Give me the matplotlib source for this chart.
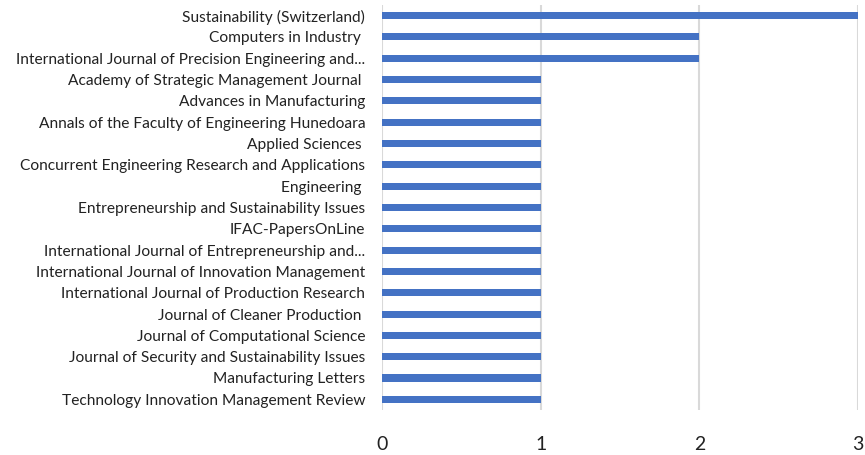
import matplotlib
matplotlib.use("Agg")
import matplotlib.pyplot as plt

journals = [
    "Sustainability (Switzerland)",
    "Computers in Industry ",
    "International Journal of Precision Engineering and...",
    "Academy of Strategic Management Journal ",
    "Advances in Manufacturing",
    "Annals of the Faculty of Engineering Hunedoara",
    "Applied Sciences ",
    "Concurrent Engineering Research and Applications",
    "Engineering ",
    "Entrepreneurship and Sustainability Issues",
    "IFAC-PapersOnLine",
    "International Journal of Entrepreneurship and...",
    "International Journal of Innovation Management",
    "International Journal of Production Research",
    "Journal of Cleaner Production ",
    "Journal of Computational Science",
    "Journal of Security and Sustainability Issues",
    "Manufacturing Letters",
    "Technology Innovation Management Review",
]
counts = [3, 2, 2, 1, 1, 1, 1, 1, 1, 1, 1, 1, 1, 1, 1, 1, 1, 1, 1]
xticks = [0, 1, 2, 3]

plt.rcParams['font.family'] = ['Lato', 'DejaVu Sans']

fig = plt.figure(figsize=(8.65, 4.55), dpi=100)
ax = fig.add_axes([0.4416, 0.099, 0.5504, 0.890])

pos = list(range(len(journals)))
ax.barh(pos, counts, height=0.33, color='#4472C4', zorder=3)
ax.set_ylim(len(journals) - 0.5, -0.5)
ax.set_xlim(0, 3)
ax.set_yticks(pos)
ax.set_yticklabels(journals, fontsize=11.2, color='#222222')
ax.set_xticks(xticks)
ax.set_xticklabels([str(t) for t in xticks], fontsize=14, color='#222222')
ax.tick_params(axis='both', length=0)
ax.tick_params(axis='x', pad=18.5)
ax.tick_params(axis='y', pad=12)
ax.grid(axis='x', color='#D9D9D9', linewidth=1.5, zorder=0)
for s in ax.spines.values():
    s.set_visible(False)

fig.savefig('out.png', dpi=100)
